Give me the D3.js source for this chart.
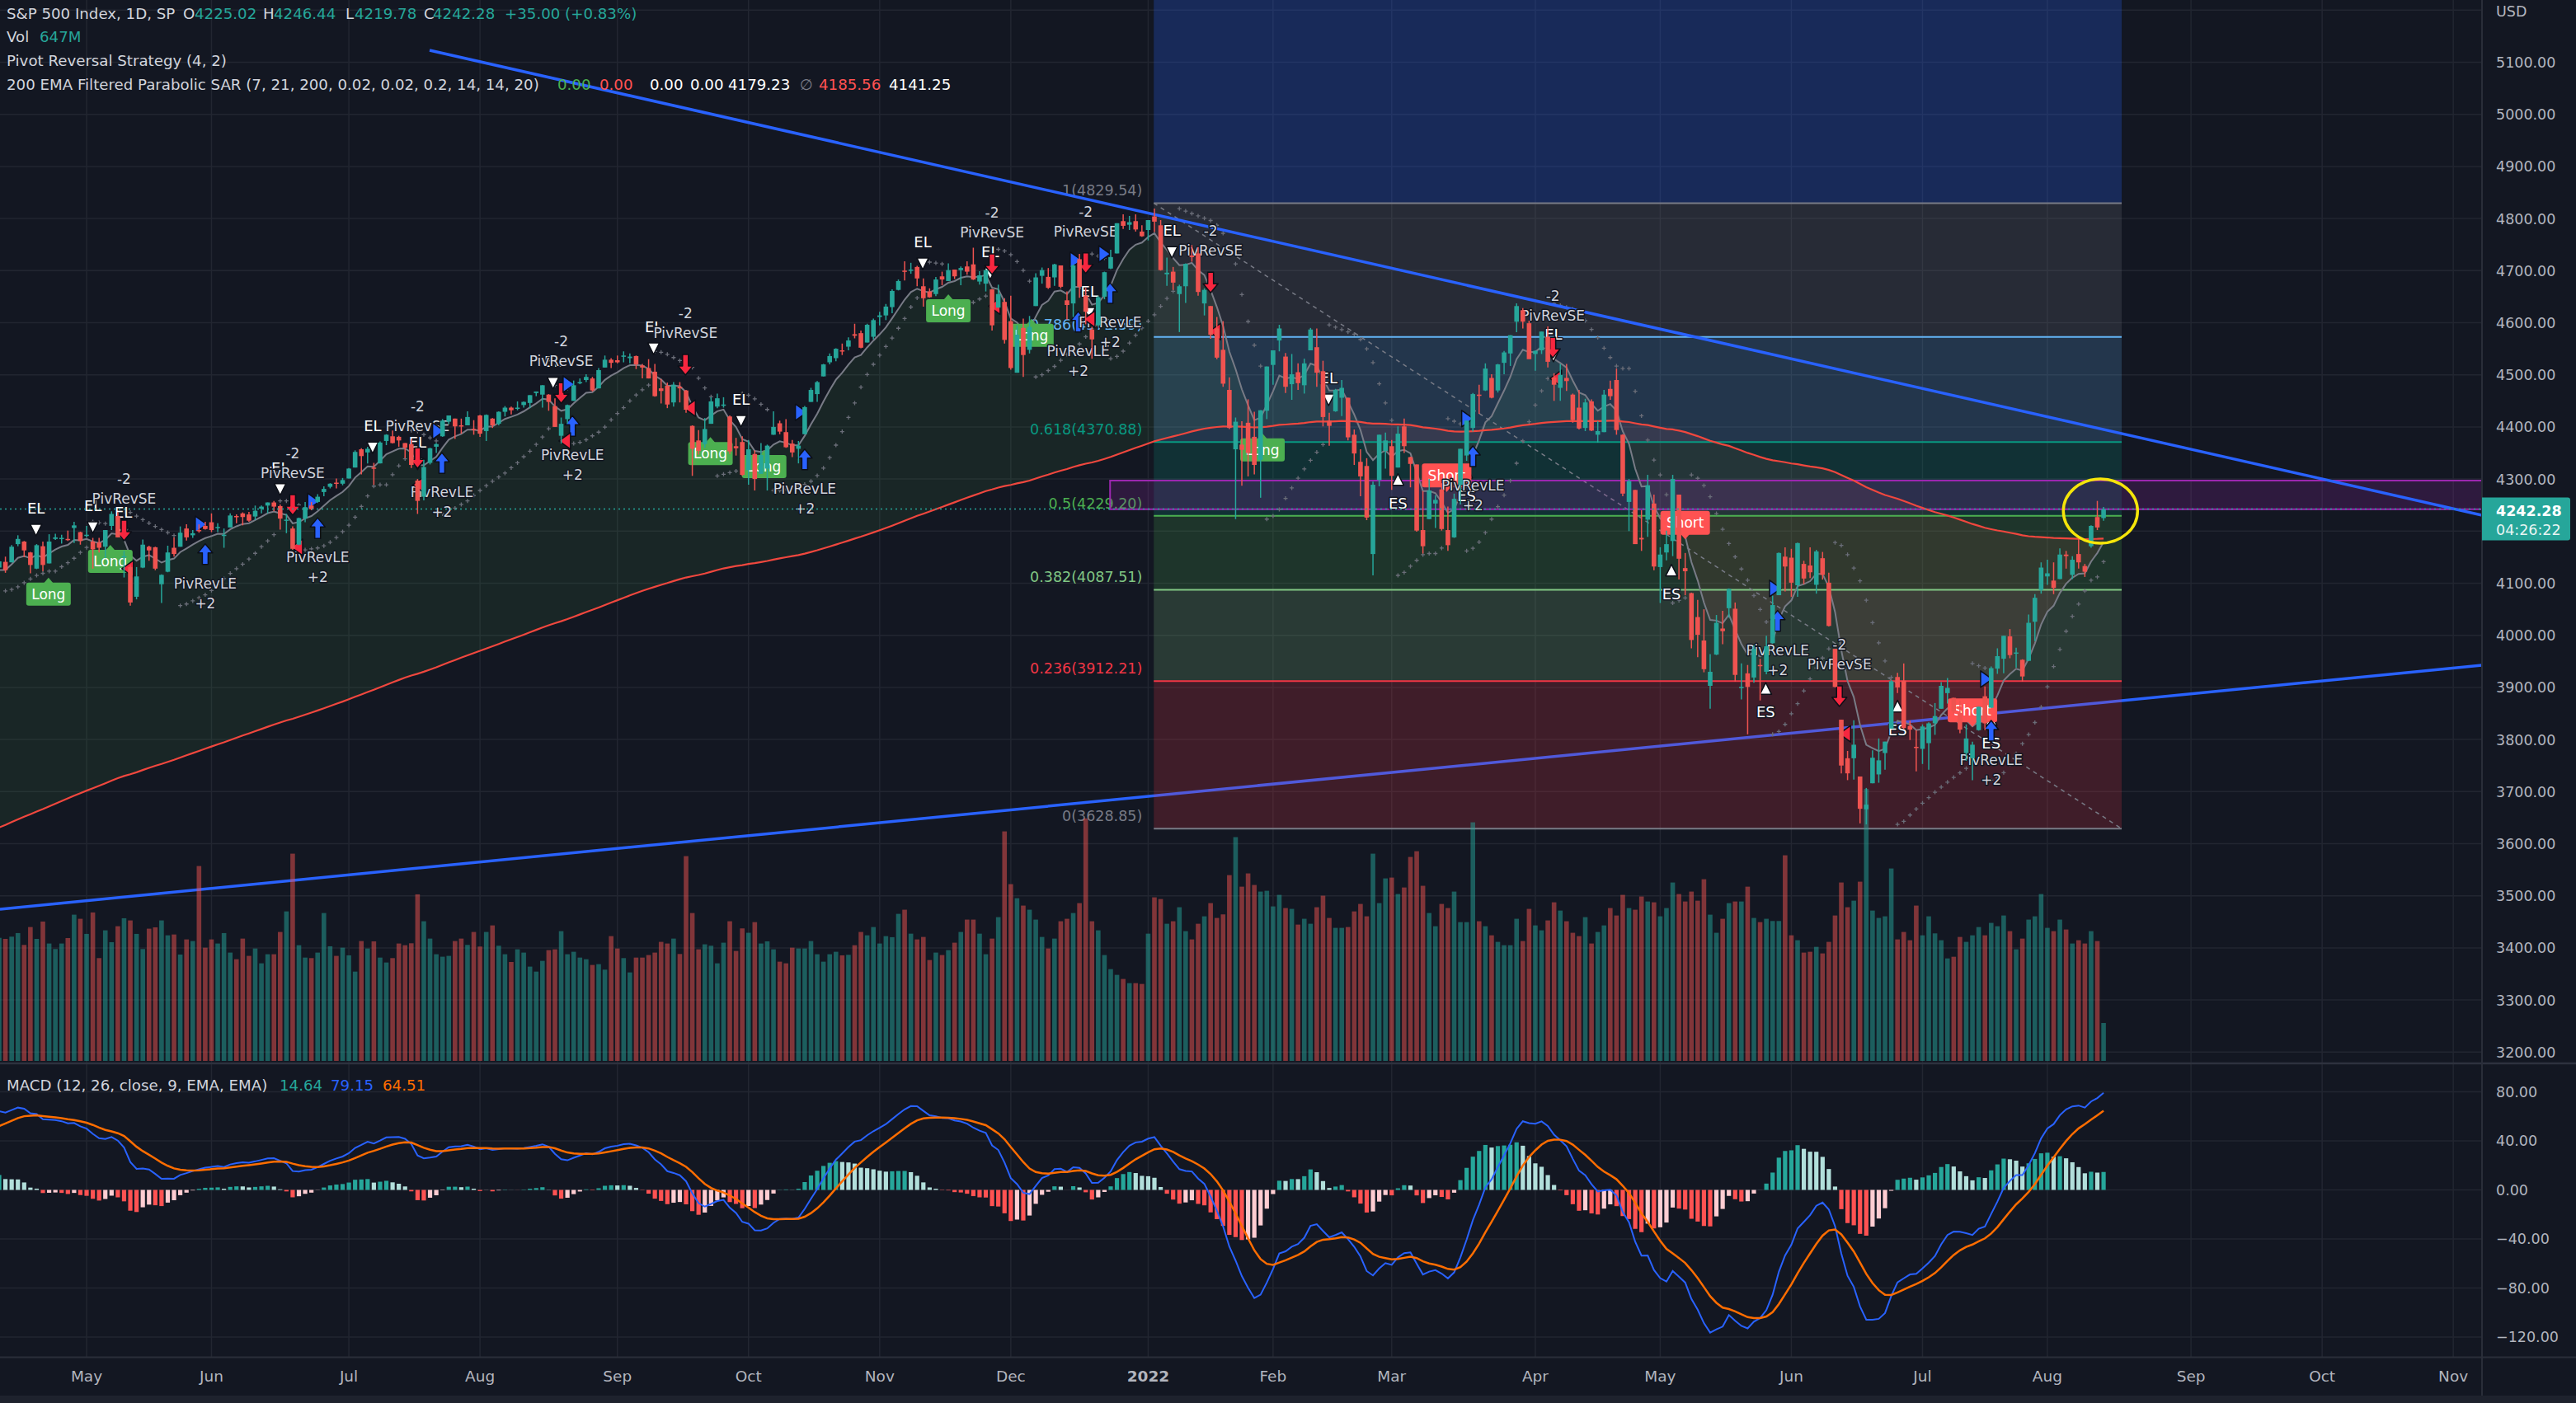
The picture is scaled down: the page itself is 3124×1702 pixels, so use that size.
<!DOCTYPE html>
<html><head><meta charset="utf-8">
<script src="https://cdn.jsdelivr.net/npm/d3@7"></script>
<style>
html,body{margin:0;padding:0;background:#131722;overflow:hidden}
svg{display:block}
text{font-family:"DejaVu Sans",sans-serif}
</style></head><body>
<svg id="c" width="3124" height="1702"></svg>
<script>
// ---------------- DATA ----------------
const HOLIDAYS=["2021-05-31","2021-07-05","2021-09-06","2021-11-25","2021-12-24","2022-01-17","2022-02-21","2022-04-15","2022-05-30","2022-06-20","2022-07-04","2022-09-05","2022-11-24"];
const FIRST_DAY="2021-04-13", CAL_END="2022-12-31";

const OPEN=[
4130,4141,4140,4175,4180,4159,4128,4171,4138,4185,4185,4185,4206,4198,
4192,4180,4178,4170,4210,4229,4150,4131,4074,4130,4170,4169,4098,4122,4168,4170,4205,4192,4202,4210,
4217,4206,4191,4207,4229,4234,4232,4228,4243,4249,4255,4248,4220,4205,4174,4224,4249,4256,4275,4285,4293,4291,
4301,4322,4357,4351,4322,4330,4373,4382,4381,4369,4367,4297,4266,4331,4362,4382,4410,4416,4403,4403,4396,
4422,4392,4416,4406,4429,4437,4436,4442,4446,4465,4462,4462,4440,4383,4415,4450,4484,4490,4493,4474,4514,4529,
4528,4535,4532,4536,4518,4513,4506,4474,4479,4447,4477,4470,4402,4374,4367,4406,4439,4442,4420,4363,4371,
4317,4348,4310,4320,4385,4407,4390,4368,4358,4386,4448,4463,4497,4524,4532,4547,4554,4578,4580,4562,4573,
4611,4614,4630,4663,4700,4701,4707,4670,4660,4655,4689,4680,4702,4701,4708,4712,4679,4675,4664,4629,4640,
4603,4504,4590,4548,4632,4690,4688,4687,4710,4643,4637,4722,4652,4587,4595,4650,4704,4733,4795,4788,4795,4775,
4778,4804,4787,4693,4698,4655,4670,4729,4733,4637,4632,4589,4548,4471,4357,4366,4408,4381,4337,4431,
4519,4566,4535,4482,4505,4480,4547,4553,4507,4412,4430,4456,4456,4385,4333,4325,4156,4298,4354,
4363,4322,4401,4342,4328,4202,4223,4253,4280,4202,4188,4289,4345,4398,4462,4470,4494,4470,4523,4541,4602,4624,4599,
4540,4547,4573,4495,4475,4494,4462,4437,4398,4449,4385,4390,4473,4490,4385,4256,4279,4187,4222,4253,
4131,4159,4181,4270,4129,4081,4035,3990,3903,3963,4013,4052,4051,3899,3927,3919,3943,3930,3985,4077,4151,
4149,4096,4137,4134,4097,4148,4101,3974,3838,3764,3764,3729,3666,3716,3733,3774,3821,3920,3913,3826,3786,
3782,3793,3831,3859,3889,3880,3851,3774,3764,3818,3883,3861,3936,3955,3998,3965,3953,3951,4026,4087,
4113,4105,4108,4155,4116,4156,4133,4171,4227,4225.02];
const HIGH=[
4148,4151,4173,4192,4181,4160,4175,4180,4194,4195,4193,4201,4218,4199,
4210,4187,4187,4202,4238,4236,4162,4135,4131,4184,4172,4170,4117,4172,4188,4209,4213,4202,4213,4218,
4234,4215,4205,4234,4232,4236,4237,4249,4249,4255,4258,4251,4233,4209,4226,4256,4256,4271,4286,4292,4301,4302,
4321,4355,4359,4362,4331,4372,4386,4393,4383,4369,4376,4300,4337,4360,4369,4415,4422,4416,4416,4430,4413,
4423,4424,4417,4430,4440,4439,4449,4449,4461,4468,4480,4463,4455,4418,4443,4489,4493,4501,4496,4513,4537,4532,
4537,4545,4541,4537,4521,4530,4521,4492,4485,4486,4486,4471,4403,4394,4417,4457,4464,4457,4422,4379,4382,
4375,4355,4369,4366,4430,4412,4415,4375,4373,4440,4475,4488,4521,4541,4551,4560,4572,4598,4585,4598,4608,
4621,4636,4664,4683,4718,4715,4709,4685,4666,4688,4698,4714,4702,4708,4718,4744,4699,4702,4665,4673,4647,
4652,4595,4608,4613,4695,4706,4705,4713,4710,4660,4712,4732,4667,4592,4652,4698,4740,4791,4808,4805,4808,4787,
4797,4819,4797,4725,4707,4673,4714,4749,4745,4666,4632,4611,4603,4495,4418,4411,4453,4429,4432,4516,
4547,4596,4542,4540,4522,4531,4590,4589,4527,4427,4473,4490,4456,4395,4357,4340,4295,4385,4389,
4375,4401,4416,4343,4328,4277,4300,4269,4292,4247,4272,4358,4412,4465,4481,4522,4501,4521,4546,4576,4637,4628,4604,
4547,4583,4593,4503,4521,4521,4464,4471,4454,4453,4411,4471,4489,4512,4386,4300,4279,4240,4308,4270,
4169,4201,4308,4270,4158,4082,4068,4050,3964,4039,4047,4090,4063,3946,3943,3981,3955,3999,4076,4159,4169,
4166,4178,4143,4169,4164,4160,4120,3974,3838,3778,3837,3729,3707,3779,3802,3796,3914,3928,3946,3836,3818,
3829,3833,3870,3910,3918,3880,3874,3829,3796,3863,3902,3940,3975,3999,4012,3976,3954,4040,4079,4140,
4145,4140,4167,4162,4152,4187,4137,4211,4258,4246.44];
const LOW=[
4124,4120,4140,4171,4150,4119,4127,4123,4138,4183,4176,4181,4177,4174,
4188,4128,4159,4148,4202,4188,4111,4057,4069,4129,4143,4125,4062,4121,4151,4170,4182,4187,4197,4203,
4198,4198,4168,4207,4215,4211,4218,4221,4234,4234,4238,4203,4196,4164,4173,4217,4240,4254,4267,4282,4282,4288,
4301,4322,4309,4330,4289,4330,4365,4368,4362,4340,4321,4233,4259,4328,4350,4381,4405,4377,4387,4403,4385,
4381,4373,4398,4403,4420,4424,4432,4437,4436,4459,4437,4431,4400,4368,4406,4450,4482,4486,4468,4474,4514,4513,
4522,4524,4522,4511,4493,4493,4458,4445,4436,4439,4447,4427,4306,4347,4360,4406,4436,4437,4348,4345,4306,
4289,4278,4310,4278,4385,4386,4360,4342,4330,4386,4448,4448,4497,4520,4526,4538,4547,4570,4551,4562,4568,
4595,4605,4618,4662,4681,4694,4670,4631,4648,4651,4672,4680,4684,4672,4692,4682,4673,4660,4585,4629,4560,
4510,4504,4496,4541,4632,4675,4665,4671,4666,4606,4611,4648,4597,4531,4592,4645,4703,4733,4780,4778,4775,4765,
4758,4774,4700,4671,4663,4582,4638,4717,4652,4614,4569,4530,4477,4396,4223,4287,4305,4309,4264,4415,
4481,4545,4465,4452,4471,4464,4547,4477,4401,4364,4429,4421,4374,4327,4267,4221,4115,4286,4320,
4279,4322,4350,4284,4199,4157,4223,4206,4201,4162,4187,4251,4335,4391,4425,4469,4455,4466,4501,4517,4582,4589,4531,
4508,4540,4514,4450,4450,4469,4408,4395,4392,4392,4370,4390,4452,4385,4267,4200,4175,4162,4189,4125,
4062,4144,4152,4107,4077,3975,3958,3929,3859,3962,3983,4034,3911,3877,3810,3909,3875,3925,3984,4077,4084,
4074,4074,4098,4110,4080,4107,4017,3900,3735,3722,3723,3639,3637,3716,3717,3742,3821,3889,3820,3799,3739,
3753,3742,3809,3859,3869,3850,3812,3759,3722,3817,3818,3861,3926,3927,3956,3938,3911,3951,3989,4080,
4097,4079,4108,4128,4108,4128,4112,4168,4202,4219.78];
const CLOSE=[
4142,4125,4170,4185,4163,4135,4173,4135,4180,4188,4187,4183,4211,4181,
4193,4165,4168,4202,4233,4188,4152,4063,4113,4174,4163,4128,4116,4159,4156,4197,4188,4196,4201,4204,
4202,4208,4193,4230,4227,4227,4220,4239,4247,4255,4247,4224,4222,4166,4225,4246,4242,4266,4281,4291,4292,4298,
4320,4352,4344,4358,4321,4370,4385,4369,4374,4360,4327,4258,4323,4359,4367,4412,4422,4401,4401,4419,4395,
4387,4423,4403,4429,4437,4432,4437,4448,4461,4468,4480,4448,4400,4406,4442,4480,4486,4496,4470,4509,4529,4523,
4524,4537,4535,4520,4514,4493,4459,4469,4443,4481,4474,4433,4358,4354,4396,4449,4455,4443,4353,4359,4308,
4357,4300,4346,4364,4400,4391,4361,4351,4364,4438,4471,4486,4520,4536,4550,4545,4566,4575,4552,4596,4605,
4614,4631,4661,4680,4698,4702,4685,4647,4649,4683,4683,4701,4689,4705,4698,4683,4691,4701,4595,4655,4567,
4513,4577,4538,4592,4687,4701,4667,4712,4669,4634,4710,4669,4621,4568,4649,4697,4726,4791,4786,4793,4779,4766,
4797,4794,4701,4696,4677,4670,4713,4726,4659,4663,4577,4533,4483,4398,4410,4356,4350,4327,4432,4516,
4547,4589,4477,4501,4484,4522,4587,4504,4419,4402,4471,4475,4380,4349,4305,4226,4289,4385,4374,
4306,4387,4363,4329,4201,4171,4278,4260,4204,4173,4262,4358,4412,4463,4461,4512,4456,4520,4543,4576,4632,4602,4530,
4546,4583,4525,4481,4500,4488,4413,4397,4447,4393,4392,4462,4459,4394,4272,4296,4175,4184,4288,4132,
4155,4175,4300,4147,4123,3991,4001,3935,3930,4024,4008,4089,3924,3901,3901,3974,3941,3979,4058,4158,4132,
4101,4177,4109,4121,4161,4116,4018,3901,3750,3735,3790,3667,3675,3765,3760,3796,3912,3900,3822,3819,3785,
3825,3831,3845,3903,3899,3854,3819,3802,3790,3863,3831,3937,3960,3999,3962,3967,3921,4024,4072,4130,
4119,4091,4155,4152,4145,4140,4122,4210,4207,4242.28];
const VOLUME=[
2100,2082,2120,2181,1979,2284,2082,2378,2003,1909,2003,2096,2495,2425,
2167,2533,1754,2228,2026,2298,2434,2397,2167,1909,2256,2279,2397,2143,2157,1815,2073,2045,3325,1932,
2073,2003,2181,1848,1735,2087,1792,1918,1665,1820,1820,2200,2551,3536,1974,1763,1754,1848,2523,1956,1792,1932,
1801,1524,2045,1918,2040,1763,1679,1754,2003,1974,2007,2842,2383,2087,1820,1778,1792,2045,2087,1979,2200,
1951,2200,2312,1965,1820,1688,1904,1848,1609,1524,1707,1890,1904,2214,1820,1862,1763,1735,1637,1651,1557,2129,
1918,1754,1510,1763,1763,1806,1848,2031,2003,2087,1824,3494,2523,1904,1989,1965,1665,2017,2383,1876,2261,
2186,2368,2003,2040,1904,1693,1665,1932,1918,1918,2045,1820,1693,1820,1862,1801,1810,1974,2200,2143,2284,
2003,2129,2111,2509,2580,2171,2073,2115,1721,1848,1806,1890,2017,2200,2411,2411,2171,1820,2087,2453,3916,
3016,2776,2650,2580,2411,2115,1918,2087,2383,2425,2523,2692,4137,2383,2228,1806,1566,1468,1398,1327,1327,1313,
2171,2791,2762,2340,2383,2622,2214,2073,2340,2467,2692,2439,2500,3170,3818,2973,3199,3002,2889,2903,
2636,2833,2608,2594,2326,2425,2340,2622,2819,2439,2270,2270,2284,2551,2678,2467,3536,2692,3114,
3128,2847,2959,3480,3578,2988,2523,2298,2678,2608,2889,2368,2368,4071,2383,2298,2143,2031,1974,1974,2425,2045,2594,
2312,2228,2397,2706,2565,2383,2186,2129,2453,2003,2200,2312,2608,2481,2833,2608,2580,2805,2720,2706,
2467,2608,3044,2847,2720,2889,2734,3100,2495,2186,2425,2692,2720,2720,2973,2439,2368,2425,2387,2387,3508,
2143,2059,1848,1862,1946,1834,2031,2481,3044,2622,2734,3058,4640,2565,2439,2467,3283,2073,2200,2059,2650,
2143,2467,2176,2059,1749,1777,2115,2031,2143,2284,2143,2355,2298,2481,2214,1904,2087,2411,2467,2847,
2270,2214,2411,2242,2003,2059,2003,2214,2045,647];

const EMA200_SEED=3626, EMA7_SEED=4120, EMA12_SEED=4068, EMA26_SEED=4005, SIGNAL_SEED=49;

const PRICE_TICKS=[3200,3300,3400,3500,3600,3700,3800,3900,4000,4100,4200,4300,4400,4500,4600,4700,4800,4900,5000,5100];
const GRID_PRICES=[3200,3300,3400,3500,3600,3700,3800,3900,4000,4100,4200,4300,4400,4500,4600,4700,4800,4900,5000,5100,5200];
const MACD_TICKS=[80,40,0,-40,-80,-120];

const FIB_RATIOS=[0,0.236,0.382,0.5,0.618,0.786,1,1.618];
const FIB_PRICES=[3628.85,3912.21,4087.51,4229.20,4370.88,4572.59,4829.54,5571.57];
const FIB_K=[184.9,339.9];

const TREND_DOWN_K=[68.93,397.6], TREND_DOWN_P=[5122.9,4230.5];
const TREND_UP_K=[0.13,397.6],   TREND_UP_P=[3474.2,3942.6];
const ZONE_K=[177.9,397.6],      ZONE_P=[4297,4242];
const CIRCLE_K=336.5, CIRCLE_P=4238.5;

// strategy marks: bar position (k) and price level
const EL_K=[5.9,15.0,19.9,45.0,59.8,67.0,88.7,104.8,118.8,147.9,158.7,174.6,187.8,212.9,248.9];
const EL_P=[4202,4207,4194,4280,4360,4329,4484,4550,4411,4713,4694,4618,4735,4452,4536];
const ES_K=[224.0,235.0,267.8,282.9,304.0,319.0];
const ES_P=[4299,4313,4125,3898,3864,3838];
const LE_K=[33.0,51.0,70.9,91.8,129.0,172.8,177.9,236.0,284.8,319.0];
const LE_P=[4155,4205,4330,4401,4337,4601,4656,4343,4027,3816];
const SE_K=[20.0,47.0,67.0,90.0,109.9,159.0,174.0,194.0,248.8,294.7];
const SE_P=[4202,4251,4341,4466,4520,4713,4715,4678,4553,3884];
const RT_K=[32.2,50.2,70.2,91.1,128.3,172.3,176.9,235.0,284.3,318.1];
const RT_P=[4213,4257,4392,4482,4428,4720,4732,4416,4090,3916];
const LT_K=[20.7,47.8,67.3,90.7,110.7,159.5,174.7,194.8,249.4,295.7];
const LT_P=[4128,4169,4289,4373,4436,4632,4607,4583,4493,3811];
const LONG_K=[7.9,17.8,113.9,122.5,152.0,165.3,202.3];
const LONG_P=[4101,4164,4371,4346,4645,4598,4378];
const SHORT_K=[231.8,270.0,316.0];
const SHORT_P=[4307,4216,3856];

const TITLE="S&P 500 Index, 1D, SP";
const LAST_OHLC=["4225.02","4246.44","4219.78","4242.28"];
const LAST_CHANGE="+35.00 (+0.83%)";
const LAST_VOL="647M";
const LAST_PRICE="4242.28", TIMER="04:26:22";
const STRAT_TITLE="Pivot Reversal Strategy (4, 2)";
const SAR_TITLE="200 EMA Filtered Parabolic SAR (7, 21, 200, 0.02, 0.02, 0.2, 14, 14, 20)";
const SAR_VALUES=["0.00","0.00","0.00","0.00","4179.23","\u2205","4185.56","4141.25"];
const MACD_TITLE="MACD (12, 26, close, 9, EMA, EMA)";
const MACD_VALUES=["14.64","79.15","64.51"];

// ---------------- SCALES ----------------
const PR=3010;
const x=d3.scaleLinear().domain([0,397.6]).range([-1,PR]);
const y=d3.scaleLinear().domain([3200,5100]).range([1276.3,75.5]);
const yM=d3.scaleLinear().domain([-120,80]).range([1622,1324.5]);
const yV=d3.scaleLinear().domain([0,1000]).range([1287,1215.9]);

const UP="#26a69a", DN="#ef5350", BG="#131722", GRID="#222631", AX="#b2b5be";

const fmtD=d3.utcFormat("%Y-%m-%d");
const days=d3.utcDay.range(new Date(FIRST_DAY+"T00:00:00Z"),new Date(CAL_END+"T00:00:00Z"))
  .filter(d=>d.getUTCDay()%6!==0 && !HOLIDAYS.includes(fmtD(d)));
const ticks=[];
for(let k=1;k<days.length;k++){
  if(days[k].getUTCMonth()!==days[k-1].getUTCMonth()){
    const xx=x(k); if(xx>20&&xx<PR-20){
      const jan=days[k].getUTCMonth()===0;
      ticks.push({k,label:jan?String(days[k].getUTCFullYear()):d3.utcFormat("%b")(days[k]),bold:jan});
    }
  }
}

// ---------------- INDICATORS ----------------
function ema(src,n,seed){const a=2/(n+1);let e=seed;return src.map(v=>(e=e+a*(v-e)));}
const ema200=ema(CLOSE,200,EMA200_SEED);
const ema7=ema(CLOSE,7,EMA7_SEED);
const e12=ema(CLOSE,12,EMA12_SEED), e26=ema(CLOSE,26,EMA26_SEED);
const macd=e12.map((v,i)=>v-e26[i]);
const signal=ema(macd,9,SIGNAL_SEED);
const hist=macd.map((v,i)=>v-signal[i]);
function psar(H,L){let up=true,af=0.02,ep=H[0],s=L[0]-40;const out=[s];
  for(let t=1;t<H.length;t++){s=s+af*(ep-s);
    if(up){s=Math.min(s,L[t-1],L[Math.max(0,t-2)]);
      if(L[t]<s){up=false;s=ep;ep=L[t];af=0.02;}else if(H[t]>ep){ep=H[t];af=Math.min(af+0.02,0.2);}}
    else{s=Math.max(s,H[t-1],H[Math.max(0,t-2)]);
      if(H[t]>s){up=true;s=ep;ep=H[t];af=0.02;}else if(L[t]<ep){ep=L[t];af=Math.min(af+0.02,0.2);}}
    out.push(s);}
  return out;}
const sar=psar(HIGH,LOW);
const N=CLOSE.length;
const idx=d3.range(N);

// ---------------- DRAW ----------------
const svg=d3.select("#c");
svg.append("rect").attr("width",3124).attr("height",1702).attr("fill",BG);
const defs=svg.append("defs");
defs.append("clipPath").attr("id","cm").append("rect").attr("x",0).attr("y",0).attr("width",PR).attr("height",1289);
defs.append("clipPath").attr("id","cd").append("rect").attr("x",0).attr("y",1292).attr("width",PR).attr("height",354);

// grid
const grid=svg.append("g");
grid.selectAll(".hg").data(GRID_PRICES).join("line").attr("x1",0).attr("x2",PR)
  .attr("y1",d=>y(d)).attr("y2",d=>y(d)).attr("stroke",GRID).attr("stroke-width",1.5);
grid.selectAll(".hm").data(MACD_TICKS).join("line").attr("x1",0).attr("x2",PR)
  .attr("y1",d=>yM(d)).attr("y2",d=>yM(d)).attr("stroke",GRID).attr("stroke-width",1.5);
grid.selectAll(".vg").data(ticks).join("line").attr("x1",d=>x(d.k)).attr("x2",d=>x(d.k))
  .attr("y1",0).attr("y2",1646).attr("stroke",GRID).attr("stroke-width",1.5);

const main=svg.append("g").attr("clip-path","url(#cm)");

// EMA fill
main.append("path").datum(idx).attr("fill","rgba(76,175,80,0.10)")
  .attr("d",d3.area().x(i=>x(i)).y0(i=>y(ema200[i])).y1(i=>y(Math.max(ema7[i],ema200[i]))));
main.append("path").datum(idx).attr("fill","rgba(255,82,82,0.10)")
  .attr("d",d3.area().x(i=>x(i)).y0(i=>y(ema200[i])).y1(i=>y(Math.min(ema7[i],ema200[i]))));

// ascending trend line (under fib)
main.append("line").attr("x1",x(TREND_UP_K[0])).attr("y1",y(TREND_UP_P[0]))
  .attr("x2",x(TREND_UP_K[1])).attr("y2",y(TREND_UP_P[1])).attr("stroke","#2962ff").attr("stroke-width",3.5);

// fib
const FIB_COLORS=["#787b86","#f23645","#81c784","#4caf50","#089981","#64b5f6","#787b86","#2962ff"];
const fx0=x(FIB_K[0]), fx1=x(FIB_K[1]);
for(let j=1;j<FIB_PRICES.length;j++){
  main.append("rect").attr("x",fx0).attr("width",fx1-fx0)
    .attr("y",y(FIB_PRICES[j])).attr("height",y(FIB_PRICES[j-1])-y(FIB_PRICES[j]))
    .attr("fill",FIB_COLORS[j]).attr("fill-opacity",j===7?0.25:0.2);
}
FIB_PRICES.forEach((p,j)=>{
  main.append("line").attr("x1",fx0).attr("x2",fx1).attr("y1",y(p)).attr("y2",y(p))
    .attr("stroke",FIB_COLORS[j]).attr("stroke-width",2);
  if(j<7) main.append("text").attr("x",fx0-14).attr("y",y(p)-9).attr("text-anchor","end")
    .attr("font-size",17.5).attr("fill",FIB_COLORS[j])
    .text(FIB_RATIOS[j]+"("+p.toFixed(2)+")");
});
main.append("line").attr("x1",fx0).attr("y1",y(FIB_PRICES[6])).attr("x2",fx1).attr("y2",y(FIB_PRICES[0]))
  .attr("stroke","#787b86").attr("stroke-width",1.5).attr("stroke-dasharray","5,5");

// purple zone
main.append("rect").attr("x",x(ZONE_K[0])).attr("width",x(ZONE_K[1])-x(ZONE_K[0]))
  .attr("y",y(ZONE_P[0])).attr("height",y(ZONE_P[1])-y(ZONE_P[0]))
  .attr("fill","rgba(156,39,176,0.2)").attr("stroke","#9c27b0").attr("stroke-width",2);

// volume
main.selectAll(".vol").data(idx).join("rect")
  .attr("x",i=>x(i)-2.8).attr("width",5.6)
  .attr("y",i=>yV(VOLUME[i])).attr("height",i=>yV(0)-yV(VOLUME[i]))
  .attr("fill",i=>CLOSE[i]>=OPEN[i]?UP:DN).attr("fill-opacity",0.5);

// EMAs
main.append("path").datum(idx).attr("fill","none").attr("stroke","#787b86").attr("stroke-width",2)
  .attr("d",d3.line().x(i=>x(i)).y(i=>y(ema7[i])));
main.append("path").datum(idx).attr("fill","none").attr("stroke","#f0473e").attr("stroke-width",2.2)
  .attr("d",d3.line().x(i=>x(i)).y(i=>y(ema200[i])));

// SAR crosses
main.selectAll(".sar").data(idx.slice(1)).join("path")
  .attr("transform",i=>`translate(${x(i)},${y(sar[i])})`)
  .attr("d","M-2.5,0H2.5M0,-2.5V2.5").attr("stroke","#6a6d78").attr("stroke-width",1.3);

// descending trend line
main.append("line").attr("x1",x(TREND_DOWN_K[0])).attr("y1",y(TREND_DOWN_P[0]))
  .attr("x2",x(TREND_DOWN_K[1])).attr("y2",y(TREND_DOWN_P[1])).attr("stroke","#2962ff").attr("stroke-width",3.5);

// strategy marks
const mk=main.append("g");
function txt(g,xx,yy,s,col,size){
  g.append("text").attr("x",xx).attr("y",yy).attr("text-anchor","middle").attr("font-size",size||17)
   .attr("fill",col||"#d1d4dc").attr("stroke",BG).attr("stroke-width",3).attr("paint-order","stroke")
   .attr("stroke-linejoin","round").text(s);
}
function shape(g,xx,yy,d,fill){
  g.append("path").attr("transform",`translate(${xx},${yy})`).attr("d",d).attr("fill",fill)
   .attr("stroke","#0c0f17").attr("stroke-width",1.5).attr("stroke-linejoin","round");
}
const P_UPARROW="M0,-13L9,-2L3.5,-2L3.5,12L-3.5,12L-3.5,-2L-9,-2Z";
const P_DNARROW="M0,13L9,2L3.5,2L3.5,-12L-3.5,-12L-3.5,2L-9,2Z";
const P_RTRI="M-6,-10L8,0L-6,10Z", P_LTRI="M6,-10L-8,0L6,10Z";
const P_DTRI="M-7,-7L7,-7L0,7Z", P_UTRI="M-7,7L7,7L0,-7Z";

EL_K.forEach((k,j)=>{const xx=x(k),yy=y(EL_P[j]);txt(mk,xx,yy-20,"EL","#ffffff",18);shape(mk,xx,yy,P_DTRI,"#ffffff");});
ES_K.forEach((k,j)=>{const xx=x(k),yy=y(ES_P[j]);txt(mk,xx,yy+35,"ES","#ffffff",18);shape(mk,xx,yy,P_UTRI,"#ffffff");});
LONG_K.forEach((k,j)=>{const xx=x(k),yy=y(LONG_P[j]);
  mk.append("path").attr("d",`M${xx-6},${yy+1}L${xx},${yy-6}L${xx+6},${yy+1}Z`).attr("fill","#4caf50");
  mk.append("rect").attr("x",xx-27).attr("y",yy).attr("width",54).attr("height",28).attr("rx",3).attr("fill","#4caf50");
  mk.append("text").attr("x",xx).attr("y",yy+20).attr("text-anchor","middle").attr("font-size",17).attr("fill","#fff").text("Long");});
SHORT_K.forEach((k,j)=>{const xx=x(k),yy=y(SHORT_P[j]);
  mk.append("path").attr("d",`M${xx-6},${yy+13}L${xx},${yy+20}L${xx+6},${yy+13}Z`).attr("fill","#ff5252");
  mk.append("rect").attr("x",xx-30).attr("y",yy-14.5).attr("width",60).attr("height",29).attr("rx",3).attr("fill","#ff5252");
  mk.append("text").attr("x",xx).attr("y",yy+6).attr("text-anchor","middle").attr("font-size",17).attr("fill","#fff").text("Short");});
LE_K.forEach((k,j)=>{const xx=x(k),yy=y(LE_P[j]);txt(mk,xx,yy+41,"PivRevLE");txt(mk,xx,yy+65,"+2");shape(mk,xx,yy,P_UPARROW,"#2962ff");});
SE_K.forEach((k,j)=>{const xx=x(k),yy=y(SE_P[j]);txt(mk,xx,yy-56,"-2");txt(mk,xx,yy-32,"PivRevSE");shape(mk,xx,yy,P_DNARROW,"#f7263f");});
RT_K.forEach((k,j)=>shape(mk,x(k),y(RT_P[j]),P_RTRI,"#2962ff"));
LT_K.forEach((k,j)=>shape(mk,x(k),y(LT_P[j]),P_LTRI,"#f7263f"));

// candles
const cg=main.append("g");
cg.selectAll(".wick").data(idx).join("line")
  .attr("x1",i=>x(i)).attr("x2",i=>x(i)).attr("y1",i=>y(HIGH[i])).attr("y2",i=>y(LOW[i]))
  .attr("stroke",i=>CLOSE[i]>=OPEN[i]?UP:DN).attr("stroke-width",1.5);
cg.selectAll(".body").data(idx).join("rect")
  .attr("x",i=>x(i)-2.8).attr("width",5.6)
  .attr("y",i=>y(Math.max(OPEN[i],CLOSE[i])))
  .attr("height",i=>Math.max(1.5,Math.abs(y(OPEN[i])-y(CLOSE[i]))))
  .attr("fill",i=>CLOSE[i]>=OPEN[i]?UP:DN);

// price line + ellipse
const lastP=CLOSE[N-1];
main.append("line").attr("x1",0).attr("x2",PR).attr("y1",y(lastP)).attr("y2",y(lastP))
  .attr("stroke",UP).attr("stroke-width",1.5).attr("stroke-dasharray","2,4");
main.append("ellipse").attr("cx",x(CIRCLE_K)).attr("cy",y(CIRCLE_P)).attr("rx",45).attr("ry",39)
  .attr("fill","none").attr("stroke","#f5e50a").attr("stroke-width",3.5);

// MACD pane
const md=svg.append("g").attr("clip-path","url(#cd)");
md.selectAll(".h").data(idx).join("rect")
  .attr("x",i=>x(i)-2.6).attr("width",5.2)
  .attr("y",i=>Math.min(yM(0),yM(hist[i]))).attr("height",i=>Math.abs(yM(hist[i])-yM(0)))
  .attr("fill",i=>{const h=hist[i],p=i>0?hist[i-1]:h;
    return h>=0?(h>=p?"#26a69a":"#b2dfdb"):(h<p?"#ff5252":"#ffcdd2");});
md.append("path").datum(idx).attr("fill","none").attr("stroke","#2962ff").attr("stroke-width",2)
  .attr("d",d3.line().x(i=>x(i)).y(i=>yM(macd[i])));
md.append("path").datum(idx).attr("fill","none").attr("stroke","#ff6d00").attr("stroke-width",2.5)
  .attr("d",d3.line().x(i=>x(i)).y(i=>yM(signal[i])));

// separators / axis frames
svg.append("line").attr("x1",0).attr("x2",3124).attr("y1",1290).attr("y2",1290).attr("stroke","#2e323e").attr("stroke-width",2.5);
svg.append("line").attr("x1",0).attr("x2",3124).attr("y1",1646.5).attr("y2",1646.5).attr("stroke","#2a2e39").attr("stroke-width",2);
svg.append("line").attr("x1",PR).attr("x2",PR).attr("y1",0).attr("y2",1694).attr("stroke","#2a2e39").attr("stroke-width",2);
svg.append("rect").attr("x",0).attr("y",1693).attr("width",3124).attr("height",9).attr("fill","#1e222d");

// price axis
const ax=svg.append("g").attr("font-size",17.5).attr("fill",AX);
ax.selectAll(".pt").data(PRICE_TICKS).join("text").attr("x",3027).attr("y",d=>y(d)+6.4).text(d=>d.toFixed(2));
ax.append("text").attr("x",3027).attr("y",20).text("USD");
ax.selectAll(".mt").data(MACD_TICKS).join("text").attr("x",3027).attr("y",d=>yM(d)+6.4)
  .text(d=>(d<0?"\u2212":"")+Math.abs(d).toFixed(2));
// last price tag
svg.append("path").attr("d",`M${PR},${y(lastP)-14}L${PR},${y(lastP)+38}L3114,${y(lastP)+38}Q3117,${y(lastP)+38} 3117,${y(lastP)+35}L3117,${y(lastP)-11}Q3117,${y(lastP)-14} 3114,${y(lastP)-14}Z`)
  .attr("fill",UP);
svg.append("text").attr("x",3027).attr("y",y(lastP)+8).attr("font-size",17.5).attr("font-weight","bold").attr("fill","#ffffff").text(LAST_PRICE);
svg.append("text").attr("x",3027).attr("y",y(lastP)+31).attr("font-size",17.5).attr("fill","#e8f5f3").text(TIMER);

// time axis
svg.append("g").selectAll("text").data(ticks).join("text")
  .attr("x",d=>x(d.k)).attr("y",1676).attr("text-anchor","middle").attr("font-size",18.5)
  .attr("font-weight",d=>d.bold?"bold":"normal").attr("fill",AX).text(d=>d.label);

// headers
const hd=svg.append("g").attr("font-size",18.2);
function ht(xx,yy,s,c){hd.append("text").attr("x",xx).attr("y",yy).attr("fill",c).text(s);}
const HC="#d1d4dc";
ht(8,23,TITLE,HC);
[["O",222,236],["H",319,332],["L",419,430],["C",514,525]].forEach((a,j)=>{ht(a[1],23,a[0],HC);ht(a[2],23,LAST_OHLC[j],UP);});
ht(612,23,LAST_CHANGE,UP);
ht(8,51,"Vol",HC); ht(48,51,LAST_VOL,UP);
ht(8,80,STRAT_TITLE,HC);
ht(8,109,SAR_TITLE,HC);
const SAR_X=[676,727,788,837,883,970,993,1078];
const SAR_C=["#4caf50","#ff5252","#ffffff","#ffffff","#ffffff","#787b86","#ff5252","#ffffff"];
SAR_VALUES.forEach((v,j)=>ht(SAR_X[j],109,v,SAR_C[j]));
ht(8,1323,MACD_TITLE,HC);
const MV_X=[339,401,464], MV_C=[UP,"#2962ff","#ff6d00"];
MACD_VALUES.forEach((v,j)=>ht(MV_X[j],1323,v,MV_C[j]));
</script></body></html>
